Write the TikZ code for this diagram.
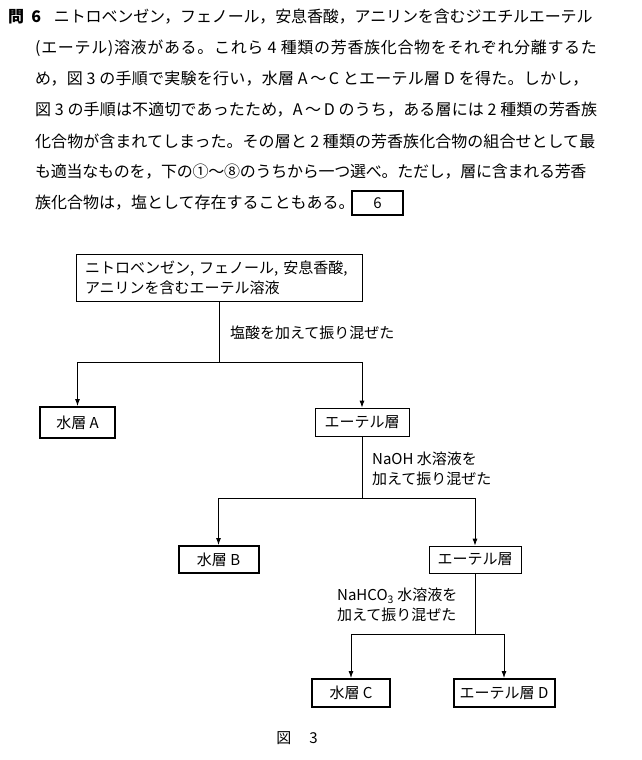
\documentclass[tikz,border=0pt]{standalone}
\usepackage{fontspec}
\setmainfont{Noto Sans CJK JP}
\usetikzlibrary{arrows.meta}
\tikzset{
  thinbox/.style={draw,line width=0.8pt,inner sep=0pt,font=\fontsize{15}{20}\selectfont},
  thickbox/.style={draw,line width=2pt,inner sep=0pt,font=\fontsize{15}{20}\selectfont},
  arr/.style={line width=0.8pt,-{Latex[length=7pt,width=5pt]}},
  lbl/.style={inner sep=0pt,align=left,font=\fontsize{15}{20}\selectfont},
  qline/.style={anchor=west,inner sep=0pt,font=\fontsize{16}{20}\selectfont}
}
\newcommand{\trk}[1]{\addfontfeature{LetterSpace=#1}}
\begin{document}
\begin{tikzpicture}[x=1pt,y=-1pt]
				\useasboundingbox (0,0) rectangle (641,760);
				
				% question text
				\node[qline] (q1) at (8,17) {\textbf{問\hspace{0.45em}6}\hspace{0.8em}\trk{-0.8}ニトロベンゼン，フェノール，安息香酸，アニリンを含むジエチルエーテル};
				\node[qline] (q2) at (35,48) {\trk{4.2}(エーテル)溶液がある。これら 4 種類の芳香族化合物をそれぞれ分離するた};
				\node[qline] (q3) at (35,79) {\trk{1.5}め，図 3 の手順で実験を行い，水層 A\,～\,C とエーテル層 D を得た。しかし，};
				\node[qline] (q4) at (35,110) {\trk{1}図 3 の手順は不適切であったため，A\,～\,D のうち，ある層には 2 種類の芳香族};
				\node[qline] (q5) at (35,141) {\trk{0.3}化合物が含まれてしまった。その層と 2 種類の芳香族化合物の組合せとして最};
				\node[qline] (q6) at (35,172) {\trk{-1.6}も適当なものを，下の①～⑧のうちから一つ選べ。ただし，層に含まれる芳香};
				\node[qline] (q7) at (35,203) {族化合物は，塩として存在することもある。};
				\node[draw,line width=1.2pt,minimum width=51pt,minimum height=24pt,inner sep=0pt,font=\fontsize{15}{20}\selectfont] (ans) at (377.5,203) {6};
				
				% first separation
				\node[thinbox,minimum width=286pt,minimum height=47pt,align=left,text width=268pt] (src) at (219,277.5) {ニトロベンゼン, フェノール, 安息香酸,\\アニリンを含むエーテル溶液};
				\coordinate (j1) at (219,362);
				\draw[line width=0.8pt] (src.south) -- (j1);
				\node[lbl,anchor=west] (hcl) at (230,333) {塩酸を加えて振り混ぜた};
				\node[thickbox,minimum width=75pt,minimum height=31pt] (wa) at (77.5,422.5) {水層 A};
				\node[thinbox,minimum width=94pt,minimum height=28pt] (e1) at (362,422) {エーテル層};
				\draw[arr] (j1) -| (wa.north);
				\draw[arr] (j1) -| (e1.north);
				
				% second separation
				\coordinate (j2) at (362,498);
				\draw[line width=0.8pt] (e1.south) -- (j2);
				\node[lbl,anchor=west] (naoh) at (372,469) {NaOH 水溶液を\\加えて振り混ぜた};
				\node[thickbox,minimum width=80pt,minimum height=27pt] (wb) at (218.5,559.5) {水層 B};
				\node[thinbox,minimum width=92pt,minimum height=27pt] (e2) at (475,559.5) {エーテル層};
				\draw[arr] (j2) -| (wb.north);
				\draw[arr] (j2) -| (e2.north);
				
				% third separation
				\coordinate (j3) at (475,634);
				\draw[line width=0.8pt] (e2.south) -- (j3);
				\node[lbl,anchor=west] (nahco) at (337,605) {NaHCO\textsubscript{3} 水溶液を\\加えて振り混ぜた};
				\node[thickbox,minimum width=78pt,minimum height=28pt] (wc) at (351,693) {水層 C};
				\node[thickbox,minimum width=101pt,minimum height=28pt] (ed) at (504,693) {エーテル層 D};
				\draw[arr] (j3) -| (wc.north);
				\draw[arr] (j3) -| (ed.north);
				
				\node[inner sep=0pt,font=\fontsize{15}{20}\selectfont] (fig) at (297,738) {図\hspace{1.2em}3};
			\end{tikzpicture}
\end{document}
